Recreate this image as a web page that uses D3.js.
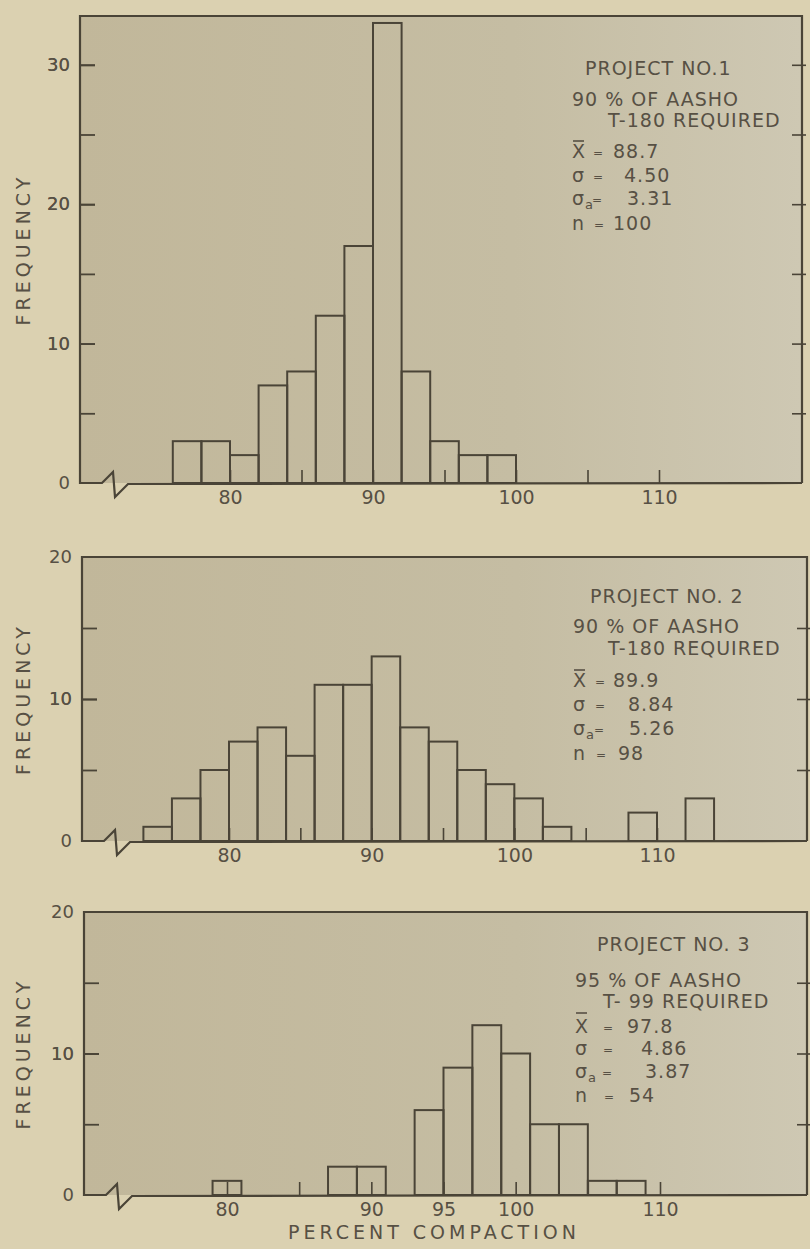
<!DOCTYPE html>
<html><head><meta charset="utf-8">
<script src="https://cdn.jsdelivr.net/npm/d3@7"></script>
<style>body{margin:0;background:#dbd1b1;} text{font-family:"DejaVu Sans",sans-serif;}</style>
</head><body>
<svg id="chart" width="810" height="1249"></svg>
<script>
// ---------- data ----------
const binWidth = 2;
const binStarts1 = [76, 78, 80, 82, 84, 86, 88, 90, 92, 94, 96, 98];
const freq1      = [3, 3, 2, 7, 8, 12, 17, 33, 8, 3, 2, 2];
const binStarts2 = [74, 76, 78, 80, 82, 84, 86, 88, 90, 92, 94, 96, 98, 100, 102, 108, 112];
const freq2      = [1, 3, 5, 7, 8, 6, 11, 11, 13, 8, 7, 5, 4, 3, 1, 2, 3];
const binStarts3 = [79, 87, 89, 93, 95, 97, 99, 101, 103, 105, 107];
const freq3      = [1, 2, 2, 6, 9, 12, 10, 5, 5, 1, 1];

const projectTitles = ["PROJECT NO.1", "PROJECT NO. 2", "PROJECT NO. 3"];
const requirementA  = ["90 % OF AASHO", "90 % OF AASHO", "95 % OF AASHO"];
const requirementB  = ["T-180 REQUIRED", "T-180 REQUIRED", "T- 99 REQUIRED"];
const means   = ["88.7", "89.9", "97.8"];
const sigmas  = ["4.50", "8.84", "4.86"];
const sigmaAs = ["3.31", "5.26", "3.87"];
const counts  = ["100", "98", "54"];

const yMaxes = [33.5, 20, 20];
const yLabelTicks = [[0, 10, 20, 30], [0, 10, 20], [0, 10, 20]];
const yAllTicks = [[5, 10, 15, 20, 25, 30], [5, 10, 15], [5, 10, 15]];
const xTicks = [80, 85, 90, 95, 100, 105, 110];
const xLabelTicks = [[80, 90, 100, 110], [80, 90, 100, 110], [80, 90, 95, 100, 110]];
const yTitle = "FREQUENCY";
const xTitle = "PERCENT COMPACTION";

// ---------- layout (positions only) ----------
const panels = [
  {left: 80, right: 802, top: 16,  bottom: 483,  x80: 230, x110: 659,
   lines: [75, 106, 127, 158, 182, 205, 230], tx: [585, 572, 608, 572], eqX: 598, valX: [613, 624, 627, 613], barY: -17},
  {left: 82, right: 807, top: 557, bottom: 841,  x80: 229, x110: 657,
   lines: [603, 633, 655, 687, 711, 735, 760], tx: [590, 573, 608, 573], eqX: 600, valX: [613, 628, 629, 618], barY: -17},
  {left: 84, right: 807, top: 912, bottom: 1195, x80: 227, x110: 660,
   lines: [951, 987, 1008, 1033, 1055, 1078, 1102], tx: [597, 575, 603, 575], eqX: 608, valX: [627, 641, 645, 629], barY: -20}
];
const bins = [
  binStarts1.map((s, i) => ({x0: s, f: freq1[i]})),
  binStarts2.map((s, i) => ({x0: s, f: freq2[i]})),
  binStarts3.map((s, i) => ({x0: s, f: freq3[i]}))
];

const ink = "#4a4437", txt = "#575044";
const svg = d3.select("#chart");
const defs = svg.append("defs");
const grad = defs.append("linearGradient").attr("id", "pf").attr("x1", "0").attr("x2", "1").attr("y1", "0").attr("y2", "0");
grad.append("stop").attr("offset", "0").attr("stop-color", "#c1b79a");
grad.append("stop").attr("offset", "0.6").attr("stop-color", "#c5bda3");
grad.append("stop").attr("offset", "1").attr("stop-color", "#cec8b3");

panels.forEach((p, k) => {
  const g = svg.append("g");
  const x = d3.scaleLinear().domain([80, 110]).range([p.x80, p.x110]);
  const y = d3.scaleLinear().domain([0, yMaxes[k]]).range([p.bottom, p.top]);

  g.append("rect").attr("x", p.left).attr("y", p.top).attr("width", p.right - p.left)
    .attr("height", p.bottom - p.top).attr("fill", "url(#pf)");

  // bars
  g.selectAll("rect.bar").data(bins[k]).join("rect").attr("class", "bar")
    .attr("x", d => x(d.x0)).attr("width", d => x(d.x0 + binWidth) - x(d.x0))
    .attr("y", d => y(d.f)).attr("height", d => y(0) - y(d.f))
    .attr("fill", "none").attr("stroke", ink).attr("stroke-width", 2);

  // left axis
  const la = g.append("g").attr("transform", `translate(${p.left},0)`)
    .call(d3.axisLeft(y).tickValues(yLabelTicks[k].concat(yAllTicks[k])).tickSize(-15).tickPadding(10)
      .tickFormat(d => yLabelTicks[k].includes(d) ? d : ""));
  la.select(".domain").remove();
  la.selectAll("line").attr("stroke", ink).attr("stroke-width", 1.8)
    .attr("display", d => (d === 0 || d === yMaxes[k] || (k > 0 && d === 20)) ? "none" : null);
  la.selectAll("text").attr("fill", txt).attr("font-size", 18).attr("font-family", "DejaVu Sans");

  // right axis ticks
  const ra = g.append("g").attr("transform", `translate(${p.right},0)`)
    .call(d3.axisRight(y).tickValues(yAllTicks[k]).tickSize(4).tickFormat(""));
  ra.select(".domain").remove();
  ra.selectAll("line").attr("x1", -10).attr("stroke", ink).attr("stroke-width", 1.6);

  // bottom axis
  const ba = g.append("g").attr("transform", `translate(0,${p.bottom})`)
    .call(d3.axisBottom(x).tickValues(xTicks).tickSize(-13).tickPadding(8)
      .tickFormat(d => xLabelTicks[k].includes(d) ? d : ""));
  ba.select(".domain").remove();
  ba.selectAll("line").attr("stroke", ink).attr("stroke-width", 1.6);
  ba.selectAll("text").attr("fill", txt).attr("font-size", 19).attr("font-family", "DejaVu Sans");

  // frame with axis break
  const L = p.left, B = p.bottom;
  g.append("path").attr("fill", "none").attr("stroke", ink).attr("stroke-width", 2.2)
    .attr("stroke-linejoin", "miter")
    .attr("d", `M${p.right},${B} L${L + 48},${B + 1} L${L + 35},${B + 14} L${L + 33},${B - 11} L${L + 22},${B} L${L},${B} L${L},${p.top} L${p.right},${p.top} L${p.right},${B}`);

  // y title
  const cy = (p.top + p.bottom) / 2;
  g.append("text").attr("transform", `translate(30,${cy}) rotate(-90)`).attr("text-anchor", "middle")
    .attr("font-size", 19).attr("letter-spacing", 4).attr("fill", txt).text(yTitle);

  // annotation block
  const t = g.append("g").attr("fill", txt).attr("font-size", 19).attr("letter-spacing", 1);
  t.append("text").attr("x", p.tx[0]).attr("y", p.lines[0]).text(projectTitles[k]);
  t.append("text").attr("x", p.tx[1]).attr("y", p.lines[1]).text(requirementA[k]);
  t.append("text").attr("x", p.tx[2]).attr("y", p.lines[2]).text(requirementB[k]);
  const sx = p.tx[3];
  const eq = (yy, dx) => t.append("text").attr("x", p.eqX + dx).attr("y", yy - 1)
    .attr("text-anchor", "middle").attr("font-size", 12).attr("letter-spacing", 0).text("=");
  // mean
  t.append("text").attr("x", sx).attr("y", p.lines[3]).text("X");
  g.append("line").attr("x1", sx + 1).attr("x2", sx + 12).attr("y1", p.lines[3] + p.barY).attr("y2", p.lines[3] + p.barY)
    .attr("stroke", txt).attr("stroke-width", 1.6);
  eq(p.lines[3], 0);
  t.append("text").attr("x", p.valX[0]).attr("y", p.lines[3]).text(means[k]);
  // sigma
  t.append("text").attr("x", sx).attr("y", p.lines[4]).text("σ");
  eq(p.lines[4], 0);
  t.append("text").attr("x", p.valX[1]).attr("y", p.lines[4]).text(sigmas[k]);
  // sigma a
  const sa = t.append("text").attr("x", sx).attr("y", p.lines[5]);
  sa.append("tspan").text("σ");
  sa.append("tspan").attr("font-size", 13).attr("dy", 4).text("a");
  eq(p.lines[5], -1);
  t.append("text").attr("x", p.valX[2]).attr("y", p.lines[5]).text(sigmaAs[k]);
  // n
  t.append("text").attr("x", sx).attr("y", p.lines[6]).text("n");
  eq(p.lines[6], 1);
  t.append("text").attr("x", p.valX[3]).attr("y", p.lines[6]).text(counts[k]);
});

svg.append("text").attr("x", 434).attr("y", 1239).attr("text-anchor", "middle")
  .attr("font-size", 19).attr("letter-spacing", 4).attr("fill", txt).text(xTitle);
</script>
</body></html>
